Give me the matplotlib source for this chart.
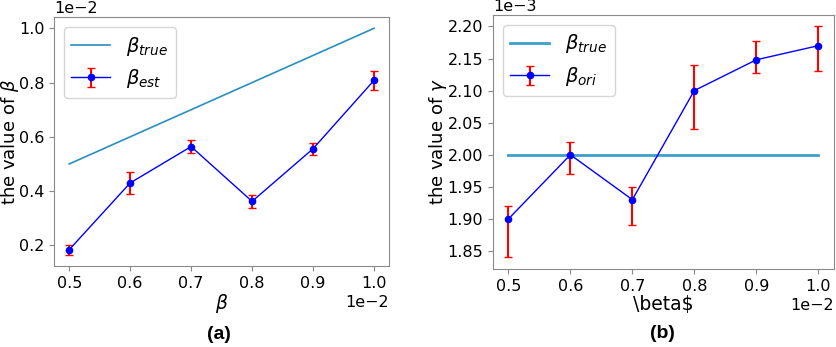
import numpy as np
import matplotlib.pyplot as plt
from matplotlib.ticker import MultipleLocator

# x values (scaled by 1e-2 offset)
beta = [0.005, 0.006, 0.007, 0.008, 0.009, 0.010]

# panel (a)
beta_true_a = [0.005, 0.006, 0.007, 0.008, 0.009, 0.010]
beta_est = [0.00184, 0.00430, 0.00564, 0.00362, 0.00556, 0.00808]
err_est = [0.00019, 0.00040, 0.00025, 0.00025, 0.00022, 0.00035]

# panel (b)
gamma_true = [0.0020, 0.0020, 0.0020, 0.0020, 0.0020, 0.0020]
gamma_ori = [0.00190, 0.00200, 0.00193, 0.00210, 0.002148, 0.00217]
err_lo = [0.00006, 0.00003, 0.00004, 0.00006, 0.00002, 0.00004]
err_hi = [0.00002, 0.00002, 0.00002, 0.00004, 0.00003, 0.00003]

true_col = '#2a8fbf'
spine_col = '#8a8a8a'

fig = plt.figure(figsize=(8.37, 3.47), dpi=100)
ax1 = fig.add_axes([0.0645, 0.233, 0.4005, 0.718])
ax2 = fig.add_axes([0.589, 0.225, 0.407, 0.732])

ax1.plot(beta, beta_true_a, color=true_col, lw=1.2, label=r'$\beta_{true}$')
ax1.errorbar(beta, beta_est, yerr=err_est, color='blue', lw=1, marker='o',
             markersize=4.5, ecolor='red', elinewidth=1.5, capsize=3,
             label=r'$\beta_{est}$')
ax1.set_xlabel(r'$\beta$', fontsize=13.5, labelpad=1)
ax1.set_ylabel(r'the value of $\beta$', fontsize=13)
ax1.yaxis.set_label_coords(-0.098, 0.5)

ax2.plot(beta, gamma_true, color='#3aa0cc', lw=2, label=r'$\beta_{true}$')
ax2.errorbar(beta, gamma_ori, yerr=[err_lo, err_hi], color='blue', lw=1,
             marker='o', markersize=4.5, ecolor='red', elinewidth=1.5,
             capsize=3, label=r'$\beta_{ori}$')
ax2.set_xlabel('\\beta$', fontsize=13.5, labelpad=1)
ax2.set_ylabel(r'the value of $\gamma$', fontsize=13)
ax2.yaxis.set_label_coords(-0.13, 0.5)
ax2.yaxis.set_major_locator(MultipleLocator(0.00005))

for ax in (ax1, ax2):
    ax.ticklabel_format(style='sci', axis='both', scilimits=(0, 0))
    ax.tick_params(labelsize=11.5, color=spine_col)
    ax.xaxis.get_offset_text().set_fontsize(11.5)
    ax.yaxis.get_offset_text().set_fontsize(11.5)
    for s in ax.spines.values():
        s.set_color(spine_col)
    ax.legend(loc='upper left', fontsize=14)

ax1.set_xticks(beta)
ax2.set_xticks(beta)

fig.text(0.262, 0.035, '(a)', ha='center', va='center', fontsize=14,
         fontweight='bold', family='Liberation Sans')
fig.text(0.791, 0.04, '(b)', ha='center', va='center', fontsize=14,
         fontweight='bold', family='Liberation Sans')

fig.savefig('out.png', dpi=100)
